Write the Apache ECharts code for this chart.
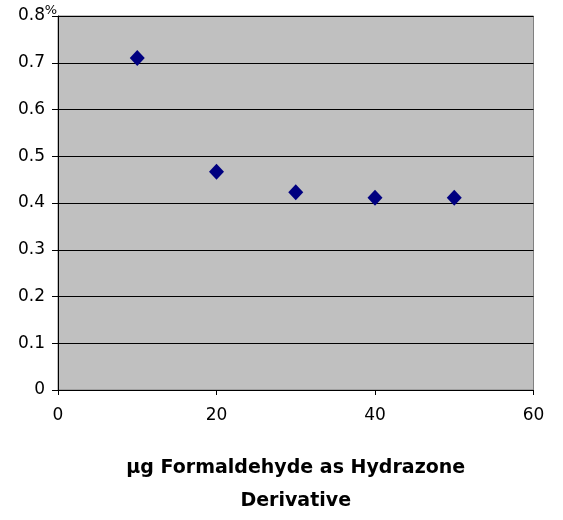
<!DOCTYPE html>
<html><head><meta charset="utf-8">
<script src="https://cdn.jsdelivr.net/npm/echarts@6/dist/echarts.min.js"></script>
<style>html,body{margin:0;padding:0;background:#fff}#c{width:563px;height:520px}</style>
</head><body><div id="c"></div>
<script>
const xValues = [10, 20, 30, 40, 50];
const yValues = [0.71, 0.467, 0.423, 0.411, 0.411];
const xTitle = "µg Formaldehyde as Hydrazone\nDerivative";
const yUnit = "%";

const chart = echarts.init(document.getElementById('c'));
chart.setOption({
  animation: false,
  backgroundColor: '#fff',
  grid: { left: 58, right: 29.5, top: 16, bottom: 130, show: true, backgroundColor: '#c0c0c0', borderColor: '#808080', borderWidth: 1, containLabel: false, outerBoundsMode: 'none' },
  graphic: [{
    type: 'text', x: 57, y: 17, z: 100,
    style: { text: yUnit, fontFamily: 'DejaVu Sans', fontSize: 13, fill: '#000', align: 'right', verticalAlign: 'bottom' }
  }],
  xAxis: {
    type: 'value', min: 0, max: 60, interval: 20,
    name: xTitle, nameLocation: 'middle', nameGap: 62,
    nameTextStyle: { fontFamily: 'DejaVu Sans', fontWeight: 'bold', fontSize: 19, color: '#000', lineHeight: 33 },
    axisLine: { lineStyle: { color: '#000', width: 1 } },
    axisTick: { show: true, length: 5, lineStyle: { color: '#000' } },
    axisLabel: { fontFamily: 'DejaVu Sans', fontSize: 17, color: '#000', margin: 17 },
    splitLine: { show: false }
  },
  yAxis: {
    type: 'value', min: 0, max: 0.8, interval: 0.1,
    axisLine: { show: true, lineStyle: { color: '#000', width: 1 } },
    axisTick: { show: true, length: 6, lineStyle: { color: '#000' } },
    axisLabel: { fontFamily: 'DejaVu Sans', fontSize: 17, color: '#000', margin: 13,
      formatter: v => (Math.round(v * 10) / 10).toString() },
    splitLine: { show: true, lineStyle: { color: '#000', width: 1 } }
  },
  series: [{
    type: 'scatter',
    data: xValues.map((x, i) => [x, yValues[i]]),
    symbol: 'diamond', symbolSize: [15, 16],
    itemStyle: { color: '#000080', opacity: 1 }
  }]
});
</script></body></html>
